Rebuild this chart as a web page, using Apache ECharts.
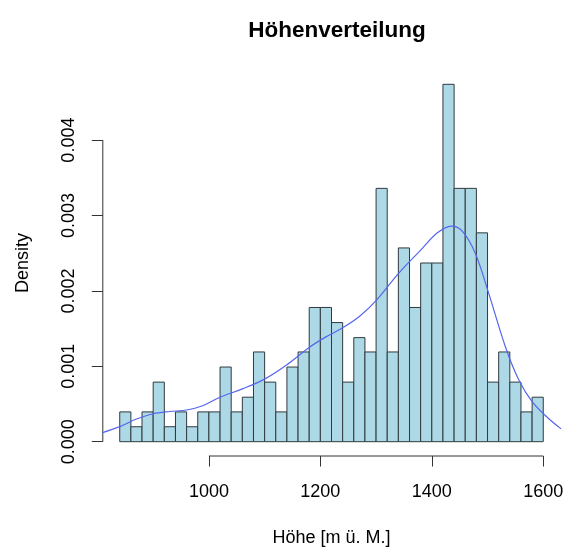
<!DOCTYPE html>
<html>
<head>
<meta charset="utf-8">
<script src="https://cdn.jsdelivr.net/npm/echarts@6/dist/echarts.min.js"></script>
<style>
  html, body { margin: 0; padding: 0; background: #fff; }
  #chart { width: 573px; height: 549px; }
</style>
</head>
<body>
<div id="chart"></div>
<script>
// Histogram breaks (m ü. M.), 20 m bins
var breaks = [840, 860, 880, 900, 920, 940, 960, 980, 1000, 1020, 1040, 1060, 1080,
  1100, 1120, 1140, 1160, 1180, 1200, 1220, 1240, 1260, 1280, 1300, 1320, 1340,
  1360, 1380, 1400, 1420, 1440, 1460, 1480, 1500, 1520, 1540, 1560, 1580, 1600];

// Density per bin
var densities = [0.000395, 0.000198, 0.000395, 0.00079, 0.000198, 0.000395, 0.000198,
  0.000395, 0.000395, 0.00099, 0.000395, 0.00059, 0.00119, 0.00079, 0.000395, 0.00099,
  0.00119, 0.00178, 0.00178, 0.00158, 0.00079, 0.00138, 0.00119, 0.00336, 0.00119,
  0.00257, 0.00178, 0.00237, 0.00237, 0.00474, 0.00336, 0.00336, 0.00277, 0.00079,
  0.00119, 0.00079, 0.000395, 0.00059];

// Kernel density estimate (x, density)
var kdeX = [805, 840, 870, 900, 930, 960, 990, 1020, 1060, 1100, 1140, 1180, 1210, 1240,
  1270, 1300, 1340, 1380, 1410, 1435, 1455, 1478, 1502, 1532, 1556, 1580, 1609, 1632];
var kdeY = [0.00011, 0.00020, 0.00030, 0.00037, 0.00040, 0.00042, 0.00048, 0.00059,
  0.00070, 0.00083, 0.00102, 0.00125, 0.00139, 0.00151, 0.00166, 0.00187, 0.00223,
  0.00254, 0.00277, 0.00286, 0.00279, 0.00250, 0.00197, 0.00126, 0.00082, 0.00053,
  0.00031, 0.00017];

var xTicks = [1000, 1200, 1400, 1600];
var yTicks = [0, 0.001, 0.002, 0.003, 0.004];

var xMin = 809.6, xMax = 1630.4;
var yMin = -0.00019, yMax = 0.00493;

var FONT = '"Liberation Sans", Arial, Helvetica, sans-serif';

var barData = densities.map(function (d, i) { return [breaks[i], breaks[i + 1], d]; });
var kdeData = kdeX.map(function (x, i) { return [x, kdeY[i]]; });

var chart = echarts.init(document.getElementById('chart'), null, { renderer: 'canvas' });

chart.setOption({
  backgroundColor: '#ffffff',
  animation: false,
  title: {
    text: 'Höhenverteilung',
    left: 332,
    textAlign: 'center',
    top: 14,
    textStyle: { fontFamily: FONT, fontSize: 22.5, fontWeight: 'bold', color: '#000' }
  },
  grid: {
    left: 102.8, right: 12.8, top: 70, bottom: 93,
    containLabel: false,
    outerBoundsMode: 'none'
  },
  xAxis: {
    type: 'value',
    min: xMin,
    max: xMax,
    name: 'Höhe [m ü. M.]',
    nameLocation: 'middle',
    nameGap: 73,
    nameTextStyle: { fontFamily: FONT, fontSize: 18, color: '#000' },
    axisLine: { show: false, onZero: false },
    splitLine: { show: false },
    axisTick: { show: true, customValues: xTicks, length: 10.5, lineStyle: { color: '#333' } },
    axisLabel: {
      customValues: xTicks,
      margin: 27,
      hideOverlap: false,
      fontFamily: FONT, fontSize: 18, color: '#000',
      formatter: function (v) { return String(v); }
    }
  },
  yAxis: {
    type: 'value',
    min: yMin,
    max: yMax,
    name: 'Density',
    nameLocation: 'middle',
    nameGap: 71,
    nameTextStyle: { fontFamily: FONT, fontSize: 18, color: '#000' },
    axisLine: { show: false, onZero: false },
    splitLine: { show: false },
    axisTick: { show: true, customValues: yTicks, length: 11, lineStyle: { color: '#333' } },
    axisLabel: {
      customValues: yTicks,
      rotate: 90,
      margin: 25,
      fontFamily: FONT, fontSize: 18, color: '#000',
      formatter: function (v) { return v.toFixed(3); }
    }
  },
  series: [
    {
      // axis lines spanning only the tick range
      type: 'custom',
      silent: true,
      clip: false,
      data: [[0]],
      renderItem: function (params, api) {
        var xa = api.coord([xTicks[0], yMin]);
        var xb = api.coord([xTicks[xTicks.length - 1], yMin]);
        var ya = api.coord([xMin, yTicks[0]]);
        var yb = api.coord([xMin, yTicks[yTicks.length - 1]]);
        var st = { stroke: '#333', lineWidth: 1 };
        return {
          type: 'group',
          children: [
            { type: 'line', shape: { x1: xa[0], y1: xa[1], x2: xb[0], y2: xb[1] }, style: st },
            { type: 'line', shape: { x1: ya[0], y1: ya[1], x2: yb[0], y2: yb[1] }, style: st }
          ]
        };
      }
    },
    {
      type: 'custom',
      name: 'hist',
      data: barData,
      encode: { x: [0, 1], y: 2 },
      renderItem: function (params, api) {
        var p0 = api.coord([api.value(0), api.value(2)]);
        var p1 = api.coord([api.value(1), 0]);
        return {
          type: 'rect',
          shape: { x: p0[0], y: p0[1], width: p1[0] - p0[0], height: p1[1] - p0[1] },
          style: { fill: '#ADD8E6', stroke: '#2f3a3e', lineWidth: 1 }
        };
      }
    },
    {
      type: 'line',
      name: 'density',
      data: kdeData,
      smooth: 0.35,
      showSymbol: false,
      clip: true,
      lineStyle: { color: '#5566ee', width: 1.2 },
      z: 5
    }
  ]
});
</script>
</body>
</html>
